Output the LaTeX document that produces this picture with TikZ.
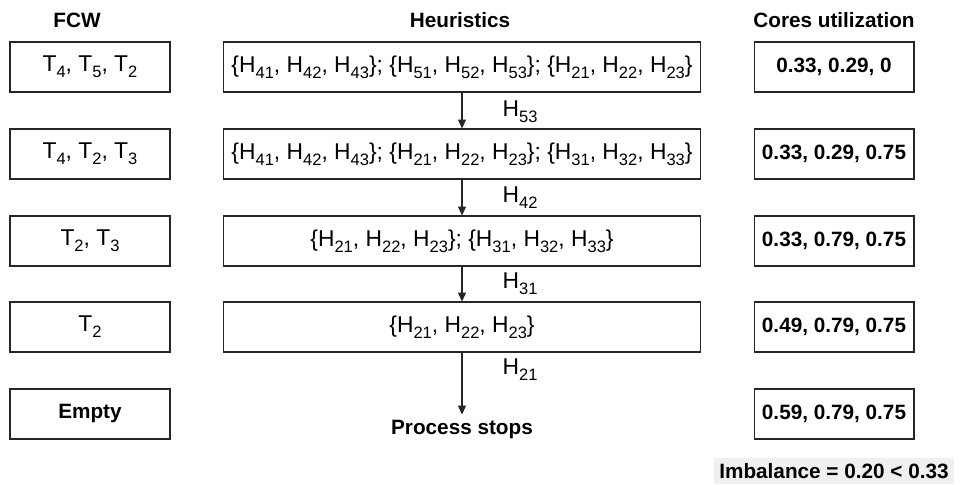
\documentclass[tikz,border=0pt]{standalone}
\usepackage{fontspec}
\setmainfont{Liberation Sans}
\usetikzlibrary{arrows.meta, positioning}
\newcommand{\subnum}[1]{\raisebox{-0.26em}{\fontsize{9.4}{10}\selectfont #1}}
\newcommand{\Tk}[1]{T\subnum{#1}}
\newcommand{\Hk}[1]{H\subnum{#1}}
\begin{document}
\begin{tikzpicture}[
        x=0.02cm, y=-0.02cm,
        font=\fontsize{13}{15}\selectfont,
        box/.style={draw=black!85, line width=0.6pt, minimum height=1cm, inner sep=0pt},
        fcw/.style={box, minimum width=3.2cm},
        heur/.style={box, minimum width=9.56cm},
        core/.style={box, minimum width=3.2cm, font=\fontsize{11.8}{14}\selectfont\bfseries},
        head/.style={font=\fontsize{11.8}{14}\selectfont\bfseries},
        arr/.style={-{Triangle[length=5pt, width=4.5pt]}, line width=0.6pt, draw=black!85},
    ]
        \useasboundingbox (0,0) rectangle (962,484);

        % column titles
        \node[head] (tf) at (77,20) {FCW};
        \node[head] (th) at (460,20) {Heuristics};
        \node[head] (tc) at (834,20) {Cores utilization};

        % FCW column
        \node[fcw] (f1) at (90,67) {\Tk{4}, \Tk{5}, \Tk{2}};
        \node[fcw] (f2) at (90,154) {\Tk{4}, \Tk{2}, \Tk{3}};
        \node[fcw] (f3) at (90,241) {\Tk{2}, \Tk{3}};
        \node[fcw] (f4) at (90,327) {\Tk{2}};
        \node[fcw, head] (f5) at (90,414) {Empty};

        % heuristics column
        \node[heur] (h1) at (462,67) {\{\Hk{41}, \Hk{42}, \Hk{43}\}; \{\Hk{51}, \Hk{52}, \Hk{53}\}; \{\Hk{21}, \Hk{22}, \Hk{23}\}};
        \node[heur] (h2) at (462,154) {\{\Hk{41}, \Hk{42}, \Hk{43}\}; \{\Hk{21}, \Hk{22}, \Hk{23}\}; \{\Hk{31}, \Hk{32}, \Hk{33}\}};
        \node[heur] (h3) at (462,241) {\{\Hk{21}, \Hk{22}, \Hk{23}\}; \{\Hk{31}, \Hk{32}, \Hk{33}\}};
        \node[heur] (h4) at (462,327) {\{\Hk{21}, \Hk{22}, \Hk{23}\}};
        \node[head] (h5) at (462,430) {Process stops};

        % cores column
        \node[core] (c1) at (834,67) {0.33, 0.29, 0};
        \node[core] (c2) at (834,154) {0.33, 0.29, 0.75};
        \node[core] (c3) at (834,241) {0.33, 0.79, 0.75};
        \node[core] (c4) at (834,327) {0.49, 0.79, 0.75};
        \node[core] (c5) at (834,414) {0.59, 0.79, 0.75};

        % selected heuristics
        \draw[arr] (h1) -- (h2);
        \draw[arr] (h2) -- (h3);
        \draw[arr] (h3) -- (h4);
        \draw[arr] (h4) -- (h5);
        \node (l1) at (520,112) {\Hk{53}};
        \node (l2) at (520,198) {\Hk{42}};
        \node (l3) at (520,284) {\Hk{31}};
        \node (l4) at (520,370) {\Hk{21}};

        \node[head, fill=black!6, inner xsep=3pt] (imb) at (834,471) {Imbalance = 0.20 < 0.33};
\end{tikzpicture}
\end{document}
